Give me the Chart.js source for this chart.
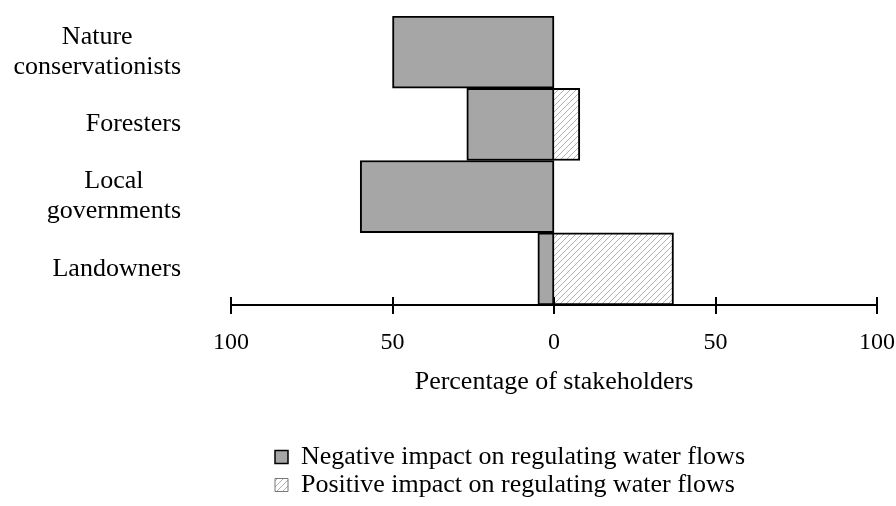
<!DOCTYPE html>
<html>
<head>
<meta charset="utf-8">
<script src="https://cdn.jsdelivr.net/npm/chart.js@4/dist/chart.umd.min.js"></script>
<style>
  html, body { margin: 0; padding: 0; background: #fff; }
  #wrap { width: 896px; height: 506px; position: relative; }
</style>
</head>
<body>
<div id="wrap"><canvas id="chart"></canvas></div>
<script>
const categories = [['Nature', 'conservationists'], 'Foresters', ['Local', 'governments'], 'Landowners'];
const negativeImpact = [-50, -27, -60, -5];
const positiveImpact = [0, 8, 0, 37];
const seriesNames = ['Negative impact on regulating water flows', 'Positive impact on regulating water flows'];

const FONT = '"Liberation Serif", "Times New Roman", serif';
Chart.defaults.font.family = FONT;
Chart.defaults.color = '#000';

// diagonal hatch used for the positive bars
function makeHatch() {
    const c = document.createElement('canvas');
    c.width = 6; c.height = 6;
    const g = c.getContext('2d');
    g.fillStyle = '#fff';
    g.fillRect(0, 0, 6, 6);
    g.strokeStyle = '#b0b0b0';
    g.lineWidth = 1;
    g.beginPath();
    g.moveTo(0, 6); g.lineTo(6, 0);
    g.moveTo(-1, 1); g.lineTo(1, -1);
    g.moveTo(5, 7); g.lineTo(7, 5);
    g.stroke();
    return g.createPattern(c, 'repeat');
}
const hatch = makeHatch();

// tick marks crossing the axis + centred multi-line category labels
const decor = {
    id: 'decor',
    afterLayout(chart) {
        // legend block sits under the middle of the plot, left aligned
        const lg = chart.legend;
        const shift = chart.chartArea.left + 42 - lg.left;
        lg.left += shift;
        lg.right += shift;
    },
    afterDraw(chart) {
        const { ctx, scales: { x, y } } = chart;
        ctx.save();
        ctx.strokeStyle = '#000';
        ctx.lineWidth = 2;
        x.ticks.forEach(t => {
            const px = Math.round(x.getPixelForValue(t.value));
            ctx.beginPath();
            ctx.moveTo(px, x.top - 8);
            ctx.lineTo(px, x.top + 9);
            ctx.stroke();
        });

        ctx.font = '26px ' + FONT;
        ctx.fillStyle = '#000';
        ctx.textAlign = 'center';
        ctx.textBaseline = 'middle';
        const rightEdge = y.right - 50;
        categories.forEach((lab, i) => {
            const lines = Array.isArray(lab) ? lab : [lab];
            const w = Math.max(...lines.map(l => ctx.measureText(l).width));
            const cx = rightEdge - w / 2;
            const cy = y.getPixelForValue(i);
            lines.forEach((l, j) => {
                ctx.fillText(l, cx, cy + (j - (lines.length - 1) / 2) * 30);
            });
        });
        ctx.restore();
    }
};

new Chart(document.getElementById('chart'), {
    type: 'bar',
    data: {
        labels: categories,
        datasets: [
            {
                label: seriesNames[0],
                data: negativeImpact,
                backgroundColor: '#a6a6a6',
                borderColor: '#000',
                borderWidth: 2,
                borderSkipped: false
            },
            {
                label: seriesNames[1],
                data: positiveImpact,
                backgroundColor: hatch,
                borderColor: '#000',
                borderWidth: 2,
                borderSkipped: 'start'
            }
        ]
    },
    options: {
        indexAxis: 'y',
        responsive: true,
        maintainAspectRatio: false,
        animation: false,
        layout: { padding: { top: 16, right: 0, left: 0, bottom: -2 } },
        datasets: { bar: { barPercentage: 1, categoryPercentage: 1 } },
        scales: {
            x: {
                stacked: true,
                min: -100,
                max: 100,
                grid: { display: false, drawTicks: true, tickLength: 22 },
                border: { display: true, color: '#000', width: 2 },
                ticks: {
                    stepSize: 50,
                    padding: 1,
                    font: { size: 24 },
                    color: '#000',
                    callback: v => Math.abs(v)
                },
                title: {
                    display: true,
                    text: 'Percentage of stakeholders',
                    font: { size: 26 },
                    color: '#000',
                    padding: { top: 0, bottom: 44 }
                },
                afterFit: s => { s.height = 137; }
            },
            y: {
                stacked: true,
                grid: { display: false },
                border: { display: false },
                ticks: { display: false },
                afterFit: s => { s.width = 231; }
            }
        },
        plugins: {
            tooltip: { enabled: false },
            legend: {
                position: 'bottom',
                align: 'start',
                labels: {
                    font: { size: 26 },
                    color: '#000',
                    boxWidth: 13,
                    boxHeight: 13,
                    padding: 2,
                    generateLabels: () => [
                        { text: seriesNames[0], fillStyle: '#a6a6a6', strokeStyle: '#000', lineWidth: 1.5, hidden: false, datasetIndex: 0 },
                        { text: seriesNames[1], fillStyle: hatch, strokeStyle: '#777', lineWidth: 1, hidden: false, datasetIndex: 1 }
                    ]
                }
            }
        }
    },
    plugins: [decor]
});
</script>
</body>
</html>
